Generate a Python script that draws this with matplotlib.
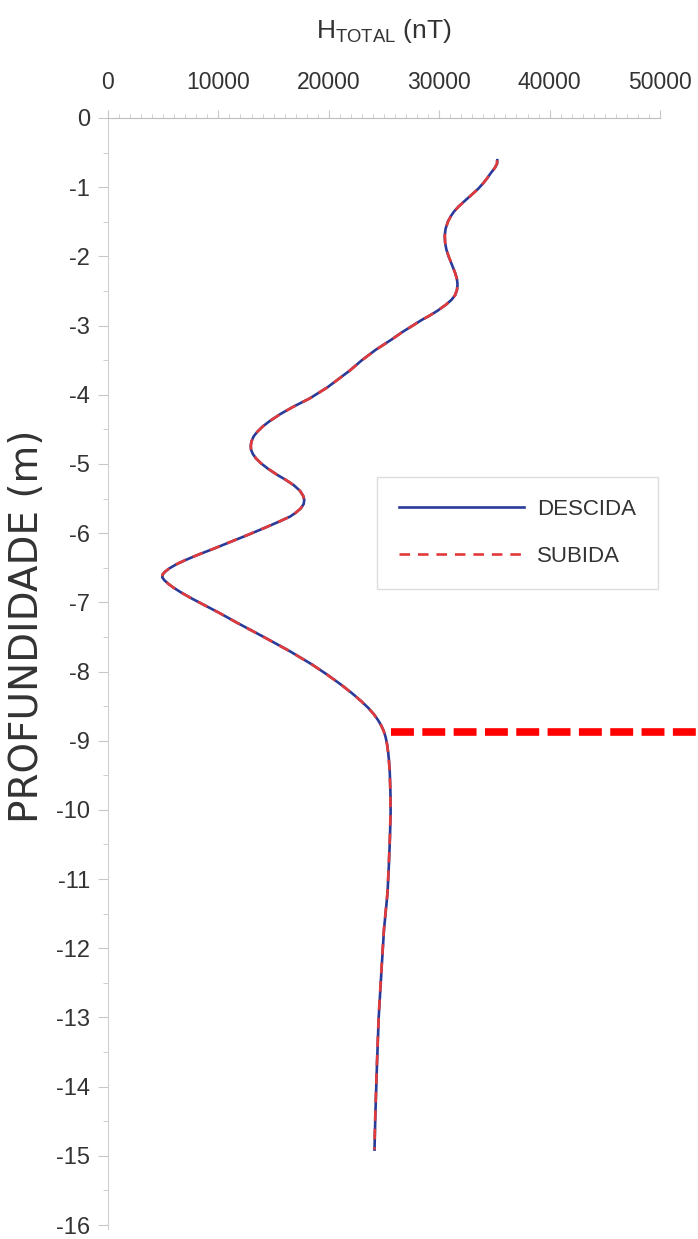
import matplotlib
matplotlib.use("Agg")
import matplotlib.pyplot as plt
from matplotlib.ticker import MultipleLocator

profundidade = [-0.61, -0.66, -0.72, -0.79, -0.87, -0.94, -1.02, -1.10, -1.20,
                -1.28, -1.35, -1.42, -1.50, -1.60, -1.70, -1.80, -1.90, -2.00, -2.12,
                -2.24, -2.32, -2.40, -2.48, -2.56, -2.63, -2.70, -2.78, -2.85,
                -2.92, -3.00, -3.10, -3.20, -3.35, -3.50, -3.65, -3.89, -4.05,
                -4.18, -4.28, -4.38, -4.46, -4.53, -4.60, -4.67, -4.73, -4.79,
                -4.85, -4.92, -4.99, -5.07, -5.15, -5.23, -5.31, -5.39, -5.46,
                -5.52, -5.58, -5.64, -5.70, -5.76, -5.83, -5.92, -6.02, -6.12,
                -6.22, -6.31, -6.39, -6.45, -6.51, -6.56, -6.60, -6.64, -6.68,
                -6.73, -6.79, -6.86, -6.95, -7.05, -7.15, -7.30, -7.50, -7.70,
                -7.90, -8.05, -8.20, -8.32, -8.43, -8.53, -8.62, -8.70, -8.78,
                -8.86, -8.95, -9.05, -9.17, -9.30, -9.45, -9.62, -9.80, -10.04,
                -10.40, -10.80, -11.20, -11.73, -12.30, -13.00, -13.70, -14.40,
                -14.91]
descida = [35260, 35250, 35050, 34700, 34350, 34000, 33550, 33000, 32300,
           31750, 31350, 31050, 30780, 30580, 30500, 30530, 30650, 30850, 31150,
           31450, 31600, 31660, 31620, 31450, 31100, 30600, 29900, 29200,
           28400, 27600, 26600, 25700, 24250, 23000, 21900, 19900, 18300,
           16700, 15600, 14650, 14000, 13550, 13200, 13000, 12930, 12950,
           13100, 13400, 13850, 14500, 15250, 16100, 16850, 17400, 17680,
           17780, 17720, 17480, 17050, 16500, 15550, 14250, 12750, 11200,
           9650, 8200, 7000, 6200, 5550, 5150, 4950, 4920, 5100,
           5450, 5950, 6650, 7650, 8850, 10050, 11750, 14100, 16400,
           18500, 19900, 21200, 22150, 22950, 23600, 24100, 24450, 24750,
           24980, 25150, 25280, 25380, 25460, 25520, 25560, 25590, 25600,
           25540, 25440, 25320, 25000, 24780, 24520, 24360, 24220,
           24140]
subida = [35240, 35230, 35040, 34690, 34340, 34010, 33560, 33010, 32310,
          31760, 31360, 31060, 30790, 30590, 30510, 30540, 30660, 30860, 31160,
          31440, 31590, 31650, 31610, 31440, 31090, 30590, 29890, 29190,
          28410, 27610, 26610, 25710, 24260, 23010, 21910, 19910, 18310,
          16710, 15610, 14660, 14010, 13560, 13210, 13010, 12940, 12960,
          13110, 13410, 13860, 14510, 15260, 16110, 16860, 17390, 17670,
          17770, 17710, 17470, 17040, 16490, 15540, 14240, 12740, 11190,
          9640, 8190, 6990, 6190, 5540, 5140, 4940, 4910, 5090,
          5440, 5940, 6640, 7640, 8840, 10040, 11740, 14090, 16390,
          18490, 19890, 21190, 22140, 22940, 23590, 24090, 24440, 24740,
          24970, 25140, 25270, 25370, 25450, 25510, 25550, 25580, 25590,
          25530, 25430, 25310, 24990, 24770, 24510, 24350, 24210,
          24130]
series = ["DESCIDA", "SUBIDA"]

# linha de referencia
nivel_depth = -8.87
nivel_h = [25600, 56000]

xticks = list(range(0, 50001, 10000))
yticks = list(range(0, -17, -1))

plt.rcParams['font.family'] = ['Liberation Sans', 'DejaVu Sans']
plt.rcParams['mathtext.fontset'] = 'custom'
plt.rcParams['mathtext.rm'] = 'Liberation Sans'
plt.rcParams['mathtext.it'] = 'Liberation Sans'

fig = plt.figure(figsize=(6.98, 12.39), dpi=100)
ax = fig.add_axes([108 / 698, 1 - 1228.5 / 1239, 552 / 698, 1110.5 / 1239])

ax.plot(descida, profundidade, color='#2a3a98', lw=1.9, label=series[0])
ax.plot(subida, profundidade, color='#e23a3a', lw=1.9,
        linestyle=(0, (4, 3)), label=series[1])
ax.plot(nivel_h, [nivel_depth, nivel_depth], color='#ff0000', lw=5.5,
        linestyle=(0, (3.0, 1.1)), clip_on=False)

ax.set_xlim(0, 50000)
ax.set_ylim(-16.05, 0)
ax.xaxis.tick_top()
ax.set_xticks(xticks)
ax.set_yticks(yticks)
ax.xaxis.set_minor_locator(MultipleLocator(1000))
ax.yaxis.set_minor_locator(MultipleLocator(0.5))
ax.tick_params(axis='x', which='major', direction='out', length=6, width=0.8,
               color='#c8c8c8', labelsize=16.5, labelcolor='#333333', pad=11)
ax.tick_params(axis='x', which='minor', direction='out', length=3, width=0.6,
               color='#c8c8c8')
ax.tick_params(axis='y', which='major', direction='out', length=7, width=0.8,
               color='#c8c8c8', labelsize=17, labelcolor='#333333', pad=6)
ax.tick_params(axis='y', which='minor', direction='out', length=3.5, width=0.6,
               color='#c8c8c8')
ax.set_yticklabels([str(t) for t in yticks])

for side in ['right', 'bottom']:
    ax.spines[side].set_visible(False)
ax.spines['top'].set_color('#bdbdbd')
ax.spines['left'].set_color('#d0d0d0')

ax.set_ylabel("PROFUNDIDADE (m)", fontsize=28, color='#333333',
              family=['DejaVu Sans'])
ax.yaxis.set_label_coords(-0.112, 0.542)

fig.text(384 / 698, 1 - 38 / 1239, r'H$_{\mathrm{TOTAL}}$ (nT)', fontsize=19,
         color='#333333', ha='center', va='baseline')

leg = ax.legend(loc='upper left', bbox_to_anchor=(377 / 698, 1 - 477 / 1239),
                bbox_transform=fig.transFigure, borderaxespad=0, fontsize=16,
                handlelength=5.6, handletextpad=0.6, borderpad=1.0,
                labelspacing=1.15, fancybox=False, framealpha=1)
leg.get_frame().set_edgecolor('#dddddd')
leg.get_frame().set_linewidth(1.0)
for t in leg.get_texts():
    t.set_color('#333333')

fig.savefig("out.png", dpi=100)
